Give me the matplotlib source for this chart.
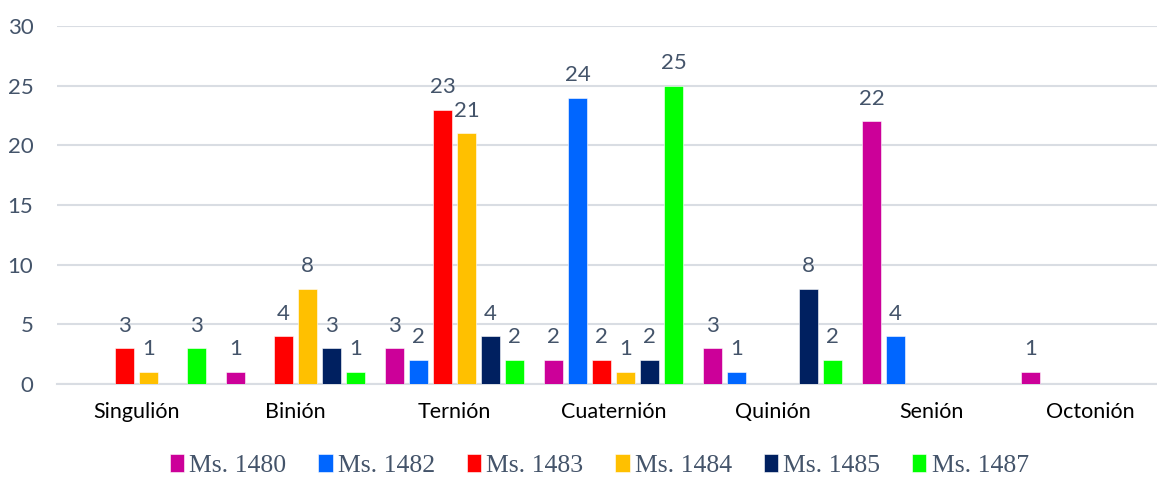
import numpy as np
import matplotlib
matplotlib.use("Agg")
import matplotlib.pyplot as plt

plt.rcParams['font.family'] = ['Lato', 'DejaVu Sans']

# Datos: número de cuadernillos por tipo y manuscrito
categorias = ['Singulión', 'Binión', 'Ternión', 'Cuaternión', 'Quinión', 'Senión', 'Octonión']
series = ['Ms. 1480', 'Ms. 1482', 'Ms. 1483', 'Ms. 1484', 'Ms. 1485', 'Ms. 1487']
ms1480 = [0, 1, 3, 2, 3, 22, 1]
ms1482 = [0, 0, 2, 24, 1, 4, 0]
ms1483 = [3, 4, 23, 2, 0, 0, 0]
ms1484 = [1, 8, 21, 1, 0, 0, 0]
ms1485 = [0, 3, 4, 2, 8, 0, 0]
ms1487 = [3, 1, 2, 25, 2, 0, 0]
valores = [ms1480, ms1482, ms1483, ms1484, ms1485, ms1487]
colores = ['#CC0099', '#0066FF', '#FF0000', '#FFC000', '#002060', '#00FF00']

texto = '#44546A'
rejilla = '#D9DDE3'

fig = plt.figure(figsize=(11.57, 4.79), dpi=100)
ax = fig.add_axes([0.0493, 0.1983, 0.962, 0.7474])

x = np.arange(len(categorias))
paso = 0.151
ancho = 0.12
for i, (nombre, vals, col) in enumerate(zip(series, valores, colores)):
    pos = x + (i - 2.5) * paso
    barras = ax.bar(pos, vals, width=ancho, color=col, label=nombre,
                    edgecolor='white', linewidth=0.4, zorder=3)
    for b, v in zip(barras, vals):
        if v > 0:
            ax.annotate(str(v), (b.get_x() + b.get_width() / 2, v),
                        xytext=(0, 12), textcoords='offset points',
                        ha='center', va='baseline', fontsize=16, color=texto)

ax.set_xlim(-0.5, len(categorias) - 0.5)
ax.set_ylim(0, 30)
ax.set_yticks(range(0, 31, 5))
ax.set_xticks(x)
ax.set_xticklabels(categorias, fontsize=15.5, color='black')
ax.tick_params(axis='x', length=0, pad=13)
ax.tick_params(axis='y', length=0, pad=17, labelsize=16, labelcolor=texto)

ax.grid(axis='y', color=rejilla, linewidth=1.5, zorder=0)
for lado in ['top', 'right', 'left']:
    ax.spines[lado].set_visible(False)
ax.spines['bottom'].set_color(rejilla)
ax.spines['bottom'].set_linewidth(1.5)

fig.legend(loc='lower center', bbox_to_anchor=(0.518, -0.045), ncol=6, frameon=False,
           prop={'family': 'Liberation Serif', 'size': 18.5}, labelcolor=texto,
           handlelength=0.55, handleheight=0.7, handletextpad=0.2, columnspacing=1.25)

fig.savefig('out.png', dpi=100)
